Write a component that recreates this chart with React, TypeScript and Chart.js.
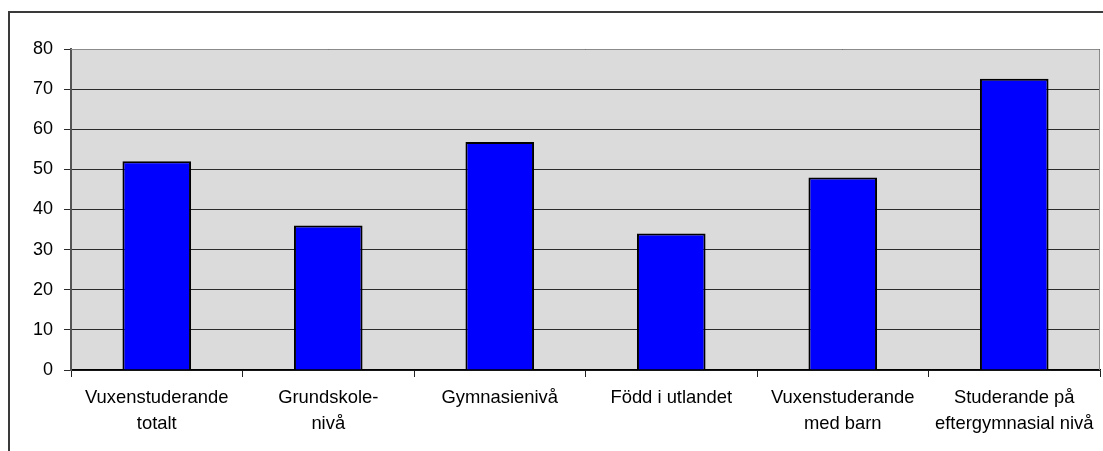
import React, { useEffect, useRef } from "react";
import { Chart, registerables } from "chart.js";

Chart.register(...registerables);

const categories: (string | string[])[] = [
  ["Vuxenstuderande", "totalt"],
  ["Grundskole-", "nivå"],
  "Gymnasienivå",
  "Född i utlandet",
  ["Vuxenstuderande", "med barn"],
  ["Studerande på", "eftergymnasial nivå"],
];
const values: number[] = [52, 36, 56.8, 34, 48, 72.6];
const yMin = 0;
const yMax = 80;
const yStep = 10;

const FONT = "'Liberation Sans', Arial, sans-serif";

const plotBg = {
  id: "plotBg",
  beforeDraw(chart: any) {
    const { ctx, chartArea } = chart;
    ctx.save();
    ctx.fillStyle = "#dbdbdb";
    ctx.fillRect(chartArea.left, chartArea.top, chartArea.right - chartArea.left, chartArea.bottom - chartArea.top);
    ctx.restore();
  },
  afterDatasetsDraw(chart: any) {
    const { ctx, chartArea } = chart;
    ctx.save();
    ctx.strokeStyle = "#8a8a8a";
    ctx.lineWidth = 1;
    ctx.beginPath();
    ctx.moveTo(chartArea.left, chartArea.top + 0.5);
    ctx.lineTo(chartArea.right - 0.5, chartArea.top + 0.5);
    ctx.lineTo(chartArea.right - 0.5, chartArea.bottom);
    ctx.stroke();
    ctx.restore();
  },
};

export default function App() {
  const ref = useRef<HTMLCanvasElement | null>(null);
  useEffect(() => {
    if (!ref.current) return;
    const chart = new Chart(ref.current, {
      type: "bar",
      data: {
        labels: categories,
        datasets: [
          {
            data: values,
            backgroundColor: "#0000ff",
            borderColor: "#000000",
            borderWidth: 2,
            barPercentage: 0.4,
            categoryPercentage: 1,
          },
        ],
      },
      options: {
        animation: false,
        responsive: true,
        maintainAspectRatio: false,
        layout: { padding: { top: 49, right: 3, bottom: 0, left: 0 } },
        plugins: {
          legend: { display: false },
          title: { display: false },
          tooltip: { enabled: false },
        },
        scales: {
          x: {
            afterFit: (s: any) => {
              s.height = 81;
            },
            grid: {
              offset: true,
              drawOnChartArea: false,
              drawTicks: true,
              tickLength: 7,
              color: "#222",
              lineWidth: 1,
            },
            border: { display: true, color: "#000", width: 1.5 },
            ticks: {
              color: "#000",
              font: { family: FONT, size: 18.4, lineHeight: 1.4 },
              maxRotation: 0,
              minRotation: 0,
              autoSkip: false,
              padding: 8,
            },
          },
          y: {
            min: yMin,
            max: yMax,
            afterFit: (s: any) => {
              s.width = 71;
            },
            grid: {
              color: "#2a2a2a",
              lineWidth: 1,
              drawTicks: true,
              tickLength: 7,
            },
            border: { display: true, color: "#555", width: 2 },
            ticks: {
              stepSize: yStep,
              color: "#000",
              font: { family: FONT, size: 18 },
              padding: 11,
            },
          },
        },
      },
      plugins: [plotBg],
    });
    return () => chart.destroy();
  }, []);

  return (
    <div style={{ position: "fixed", left: 0, top: 0, width: 1103, height: 451, background: "#fff", overflow: "hidden" }}>
      <div
        style={{
          position: "absolute",
          left: 8,
          top: 11,
          width: 1200,
          height: 600,
          borderLeft: "2px solid #3a3a3a",
          borderTop: "2px solid #3a3a3a",
        }}
      />
      <div style={{ position: "absolute", left: 0, top: 0, width: 1103, height: 451 }}>
        <canvas ref={ref} />
      </div>
    </div>
  );
}
